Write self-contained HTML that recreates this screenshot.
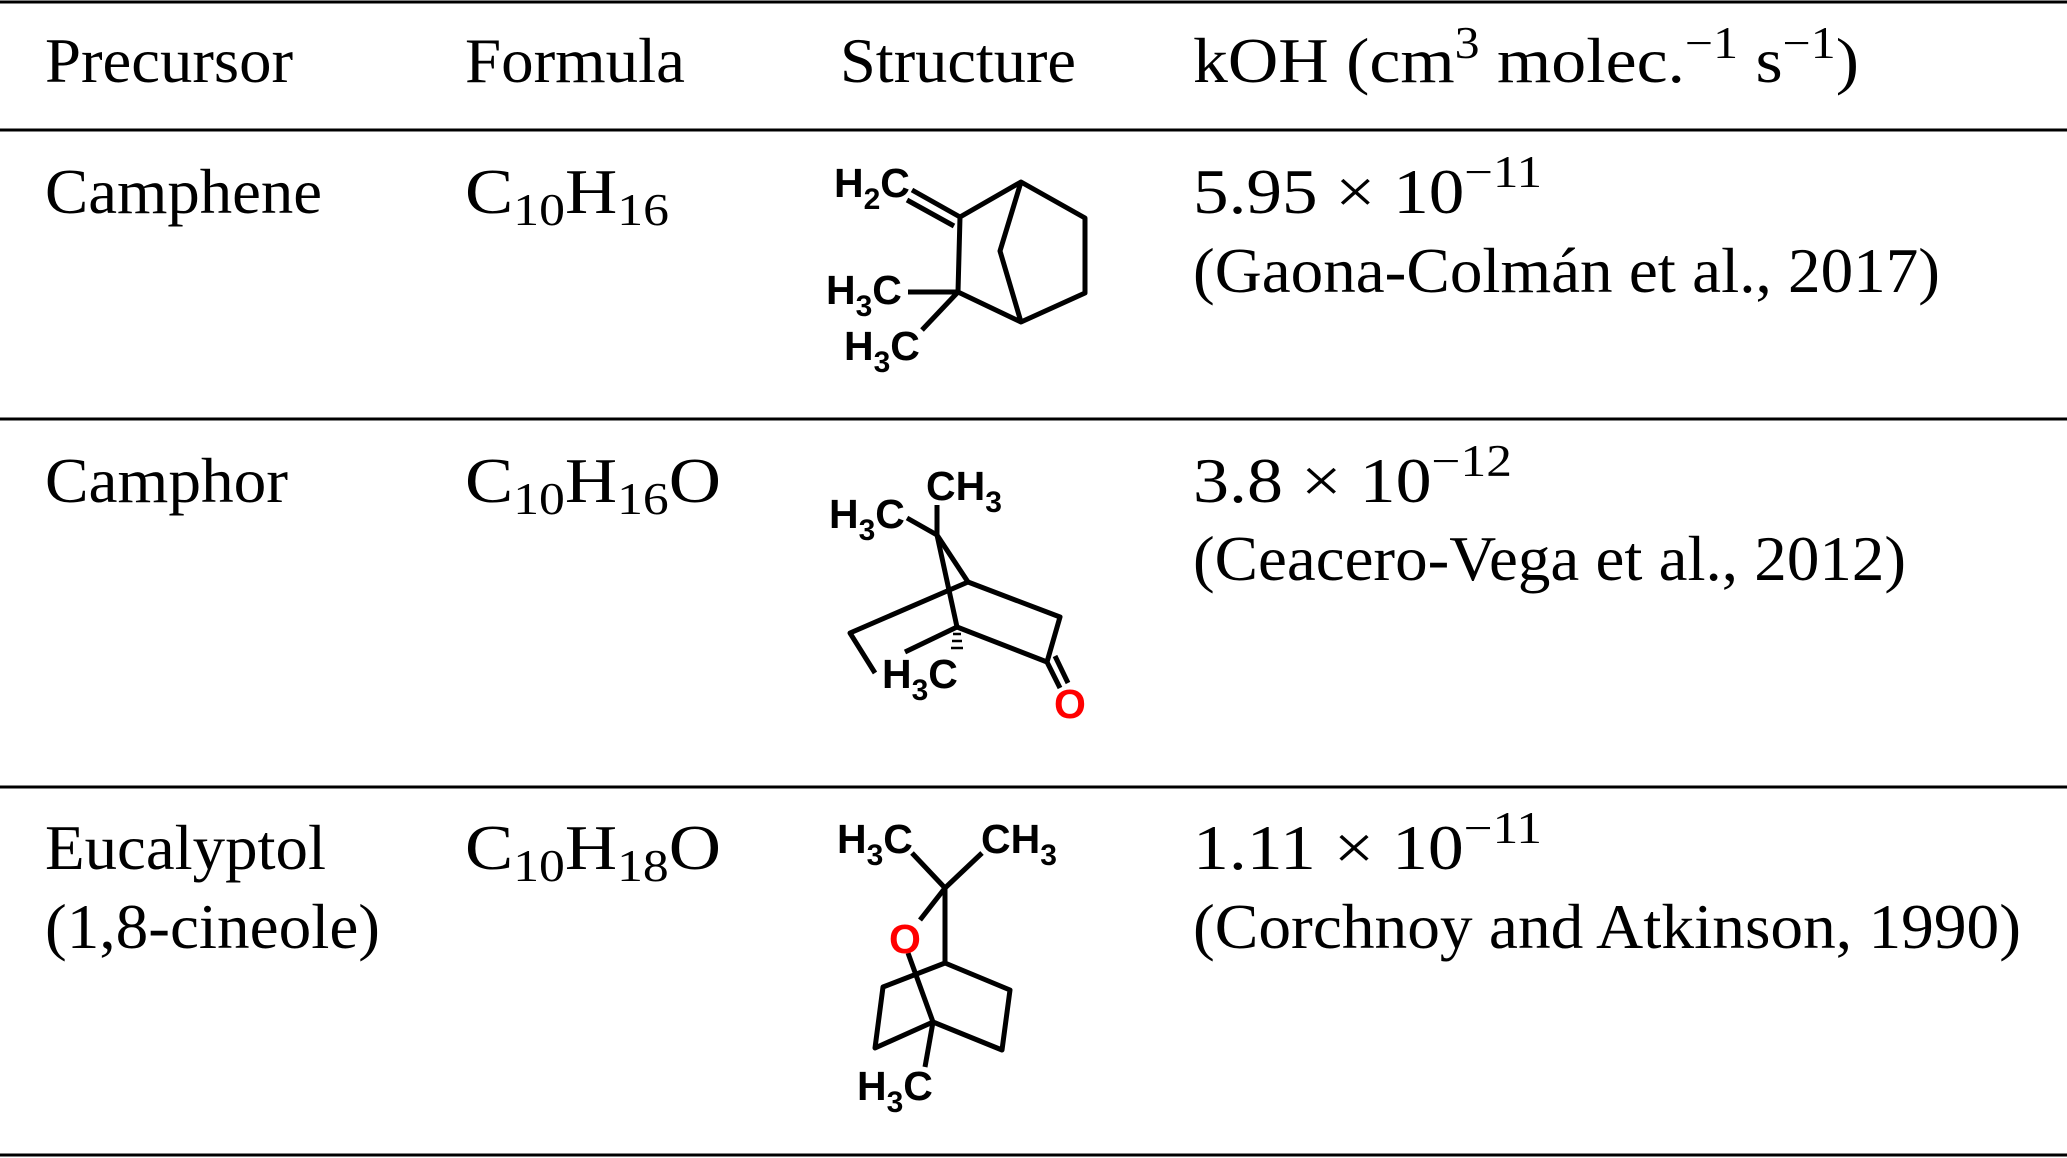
<!DOCTYPE html>
<html><head><meta charset="utf-8"><style>
html,body{margin:0;padding:0;background:#fff;}
svg{display:block;}
.t{font-family:"Liberation Serif",serif;font-size:63px;fill:#000;}
.c{font-family:"Liberation Sans",sans-serif;font-size:41px;font-weight:bold;fill:#000;}
.s{font-size:30px;}
</style></head><body>
<svg width="2067" height="1158" viewBox="0 0 2067 1158" xmlns="http://www.w3.org/2000/svg">
<g stroke="#000" stroke-width="3">
<line x1="0" y1="2" x2="2067" y2="2"/>
<line x1="0" y1="130" x2="2067" y2="130"/>
<line x1="0" y1="419" x2="2067" y2="419"/>
<line x1="0" y1="787" x2="2067" y2="787"/>
<line x1="0" y1="1155" x2="2067" y2="1155"/>
</g>
<g class="t">
<text x="45" y="82" textLength="248" lengthAdjust="spacingAndGlyphs">Precursor</text>
<text x="465" y="82" textLength="220" lengthAdjust="spacingAndGlyphs">Formula</text>
<text x="840" y="82" textLength="236" lengthAdjust="spacingAndGlyphs">Structure</text>
<text x="1193" y="82" textLength="666" lengthAdjust="spacingAndGlyphs">kOH (cm<tspan dy="-24" font-size="45">3</tspan><tspan dy="24"> molec.</tspan><tspan dy="-24" font-size="45">−1</tspan><tspan dy="24"> s</tspan><tspan dy="-24" font-size="45">−1</tspan><tspan dy="24">)</tspan></text>

<text x="45" y="213" textLength="277" lengthAdjust="spacingAndGlyphs">Camphene</text>
<text x="465" y="213" textLength="204" lengthAdjust="spacingAndGlyphs">C<tspan dy="12" font-size="45">10</tspan><tspan dy="-12">H</tspan><tspan dy="12" font-size="45">16</tspan></text>
<text x="1193" y="213" textLength="349" lengthAdjust="spacingAndGlyphs">5.95 × 10<tspan dy="-26" font-size="45">−11</tspan></text>
<text x="1193" y="292" textLength="747" lengthAdjust="spacingAndGlyphs">(Gaona-Colmán et al., 2017)</text>

<text x="45" y="502" textLength="243" lengthAdjust="spacingAndGlyphs">Camphor</text>
<text x="465" y="502" textLength="256" lengthAdjust="spacingAndGlyphs">C<tspan dy="12" font-size="45">10</tspan><tspan dy="-12">H</tspan><tspan dy="12" font-size="45">16</tspan><tspan dy="-12">O</tspan></text>
<text x="1193" y="502" textLength="319" lengthAdjust="spacingAndGlyphs">3.8 × 10<tspan dy="-26" font-size="45">−12</tspan></text>
<text x="1193" y="580" textLength="713" lengthAdjust="spacingAndGlyphs">(Ceacero-Vega et al., 2012)</text>

<text x="45" y="869" textLength="281" lengthAdjust="spacingAndGlyphs">Eucalyptol</text>
<text x="45" y="948" textLength="335" lengthAdjust="spacingAndGlyphs">(1,8-cineole)</text>
<text x="465" y="869" textLength="256" lengthAdjust="spacingAndGlyphs">C<tspan dy="12" font-size="45">10</tspan><tspan dy="-12">H</tspan><tspan dy="12" font-size="45">18</tspan><tspan dy="-12">O</tspan></text>
<text x="1193" y="869" textLength="349" lengthAdjust="spacingAndGlyphs">1.11 × 10<tspan dy="-26" font-size="45">−11</tspan></text>
<text x="1193" y="948" textLength="828" lengthAdjust="spacingAndGlyphs">(Corchnoy and Atkinson, 1990)</text>
</g>

<!-- Camphene -->
<g stroke="#000" stroke-width="5" fill="none" stroke-linejoin="round">
<polyline points="960,217 1021,182 1085,218 1085,293 1021,322 958,292 960,217"/>
<polyline points="1021,182 1000,251 1021,322"/>
<line x1="958" y1="292" x2="908" y2="292"/>
<line x1="958" y1="292" x2="922" y2="330"/>
<line x1="960" y1="217" x2="912" y2="190"/>
<line x1="954" y1="226" x2="907" y2="200"/>
</g>
<g class="c">
<text x="834" y="197">H<tspan class="s" dy="12">2</tspan><tspan dy="-12">C</tspan></text>
<text x="826" y="304">H<tspan class="s" dy="12">3</tspan><tspan dy="-12">C</tspan></text>
<text x="844" y="360">H<tspan class="s" dy="12">3</tspan><tspan dy="-12">C</tspan></text>
</g>

<!-- Camphor -->
<g stroke="#000" stroke-width="5" fill="none" stroke-linejoin="round">
<line x1="937" y1="535" x2="937" y2="505"/>
<line x1="937" y1="535" x2="907" y2="518"/>
<line x1="937" y1="535" x2="968" y2="582"/>
<line x1="937" y1="535" x2="957" y2="627"/>
<polyline points="968,582 1060,617 1047,662 957,627"/>
<polyline points="968,582 850,633 875,673"/>
<line x1="957" y1="627" x2="905" y2="652"/>
<line x1="1047" y1="662" x2="1060" y2="688"/>
<line x1="1055" y1="656" x2="1068" y2="683"/>
</g>
<g stroke="#000" stroke-width="2.5">
<line x1="953" y1="634" x2="961" y2="634"/>
<line x1="952" y1="641" x2="962" y2="641"/>
<line x1="951" y1="648" x2="963" y2="648"/>
</g>
<g class="c">
<text x="926" y="500">CH<tspan class="s" dy="12">3</tspan></text>
<text x="829" y="528">H<tspan class="s" dy="12">3</tspan><tspan dy="-12">C</tspan></text>
<text x="882" y="688">H<tspan class="s" dy="12">3</tspan><tspan dy="-12">C</tspan></text>
<text x="1054" y="718" fill="#f00">O</text>
</g>

<!-- Eucalyptol -->
<g stroke="#000" stroke-width="5" fill="none" stroke-linejoin="round">
<line x1="945" y1="888" x2="912" y2="853"/>
<line x1="945" y1="888" x2="982" y2="853"/>
<line x1="945" y1="888" x2="920" y2="920"/>
<line x1="945" y1="888" x2="945" y2="963"/>
<polyline points="945,963 1010,990 1002,1050 933,1022"/>
<polyline points="945,963 883,987 875,1048 933,1022"/>
<line x1="908" y1="953" x2="933" y2="1022"/>
<line x1="933" y1="1022" x2="925" y2="1067"/>
</g>
<g class="c">
<text x="837" y="853">H<tspan class="s" dy="12">3</tspan><tspan dy="-12">C</tspan></text>
<text x="981" y="853">CH<tspan class="s" dy="12">3</tspan></text>
<text x="857" y="1100">H<tspan class="s" dy="12">3</tspan><tspan dy="-12">C</tspan></text>
<text x="889" y="953" fill="#f00">O</text>
</g>
</svg>
</body></html>
